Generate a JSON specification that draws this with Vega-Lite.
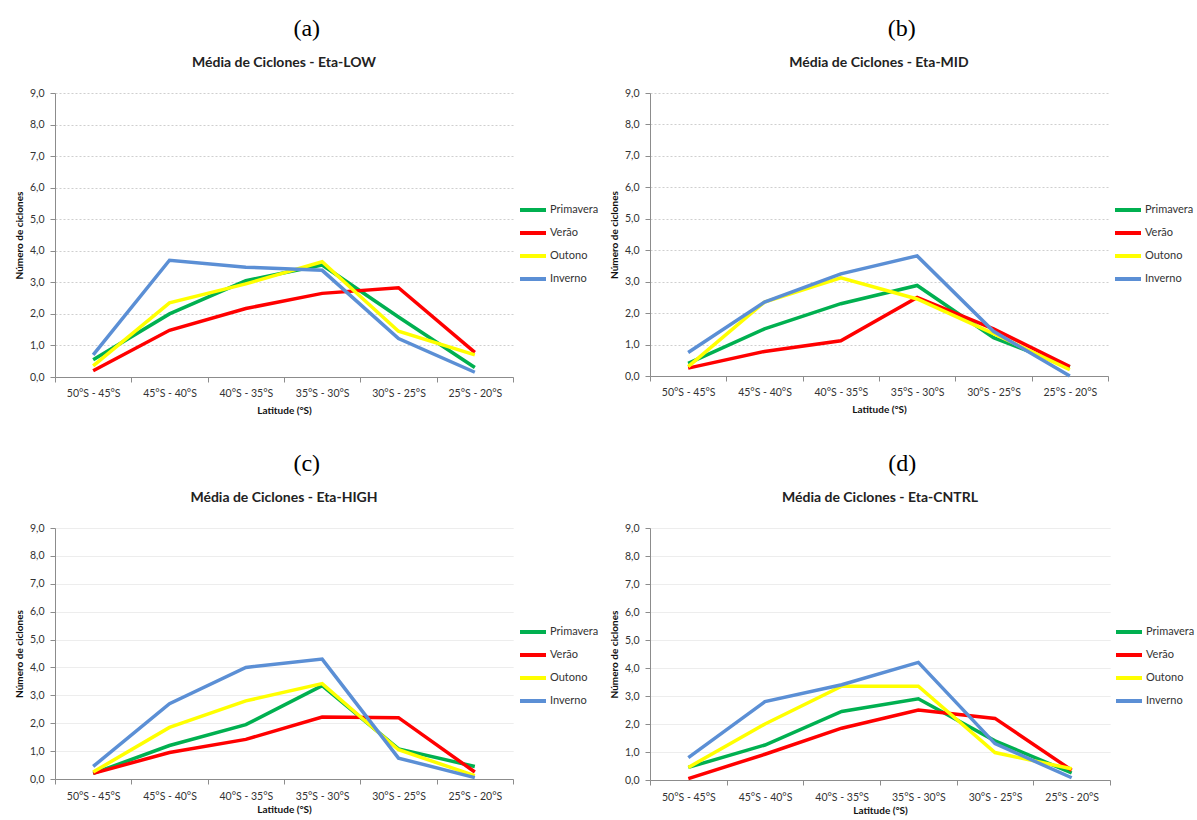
{
  "$schema": "https://vega.github.io/schema/vega-lite/v6.json",
  "background": "white",
  "padding": {"left": 14, "top": 17, "right": 0, "bottom": 0},
  "datasets": {
    "ciclones": [
      {"painel": "LOW", "faixa": "50°S - 45°S", "estacao": "Primavera", "n": 0.55},
      {"painel": "LOW", "faixa": "45°S - 40°S", "estacao": "Primavera", "n": 2.0},
      {"painel": "LOW", "faixa": "40°S - 35°S", "estacao": "Primavera", "n": 3.05},
      {"painel": "LOW", "faixa": "35°S - 30°S", "estacao": "Primavera", "n": 3.55},
      {"painel": "LOW", "faixa": "30°S - 25°S", "estacao": "Primavera", "n": 1.9},
      {"painel": "LOW", "faixa": "25°S - 20°S", "estacao": "Primavera", "n": 0.3},
      {"painel": "LOW", "faixa": "50°S - 45°S", "estacao": "Verão", "n": 0.2},
      {"painel": "LOW", "faixa": "45°S - 40°S", "estacao": "Verão", "n": 1.48},
      {"painel": "LOW", "faixa": "40°S - 35°S", "estacao": "Verão", "n": 2.17},
      {"painel": "LOW", "faixa": "35°S - 30°S", "estacao": "Verão", "n": 2.65},
      {"painel": "LOW", "faixa": "30°S - 25°S", "estacao": "Verão", "n": 2.83},
      {"painel": "LOW", "faixa": "25°S - 20°S", "estacao": "Verão", "n": 0.78},
      {"painel": "LOW", "faixa": "50°S - 45°S", "estacao": "Outono", "n": 0.35},
      {"painel": "LOW", "faixa": "45°S - 40°S", "estacao": "Outono", "n": 2.35},
      {"painel": "LOW", "faixa": "40°S - 35°S", "estacao": "Outono", "n": 2.95},
      {"painel": "LOW", "faixa": "35°S - 30°S", "estacao": "Outono", "n": 3.65},
      {"painel": "LOW", "faixa": "30°S - 25°S", "estacao": "Outono", "n": 1.45},
      {"painel": "LOW", "faixa": "25°S - 20°S", "estacao": "Outono", "n": 0.7},
      {"painel": "LOW", "faixa": "50°S - 45°S", "estacao": "Inverno", "n": 0.7},
      {"painel": "LOW", "faixa": "45°S - 40°S", "estacao": "Inverno", "n": 3.7},
      {"painel": "LOW", "faixa": "40°S - 35°S", "estacao": "Inverno", "n": 3.48},
      {"painel": "LOW", "faixa": "35°S - 30°S", "estacao": "Inverno", "n": 3.38},
      {"painel": "LOW", "faixa": "30°S - 25°S", "estacao": "Inverno", "n": 1.22},
      {"painel": "LOW", "faixa": "25°S - 20°S", "estacao": "Inverno", "n": 0.15},

      {"painel": "MID", "faixa": "50°S - 45°S", "estacao": "Primavera", "n": 0.4},
      {"painel": "MID", "faixa": "45°S - 40°S", "estacao": "Primavera", "n": 1.5},
      {"painel": "MID", "faixa": "40°S - 35°S", "estacao": "Primavera", "n": 2.3},
      {"painel": "MID", "faixa": "35°S - 30°S", "estacao": "Primavera", "n": 2.88},
      {"painel": "MID", "faixa": "30°S - 25°S", "estacao": "Primavera", "n": 1.22},
      {"painel": "MID", "faixa": "25°S - 20°S", "estacao": "Primavera", "n": 0.28},
      {"painel": "MID", "faixa": "50°S - 45°S", "estacao": "Verão", "n": 0.25},
      {"painel": "MID", "faixa": "45°S - 40°S", "estacao": "Verão", "n": 0.78},
      {"painel": "MID", "faixa": "40°S - 35°S", "estacao": "Verão", "n": 1.12},
      {"painel": "MID", "faixa": "35°S - 30°S", "estacao": "Verão", "n": 2.5},
      {"painel": "MID", "faixa": "30°S - 25°S", "estacao": "Verão", "n": 1.5},
      {"painel": "MID", "faixa": "25°S - 20°S", "estacao": "Verão", "n": 0.3},
      {"painel": "MID", "faixa": "50°S - 45°S", "estacao": "Outono", "n": 0.3},
      {"painel": "MID", "faixa": "45°S - 40°S", "estacao": "Outono", "n": 2.35},
      {"painel": "MID", "faixa": "40°S - 35°S", "estacao": "Outono", "n": 3.12},
      {"painel": "MID", "faixa": "35°S - 30°S", "estacao": "Outono", "n": 2.45},
      {"painel": "MID", "faixa": "30°S - 25°S", "estacao": "Outono", "n": 1.35},
      {"painel": "MID", "faixa": "25°S - 20°S", "estacao": "Outono", "n": 0.2},
      {"painel": "MID", "faixa": "50°S - 45°S", "estacao": "Inverno", "n": 0.75},
      {"painel": "MID", "faixa": "45°S - 40°S", "estacao": "Inverno", "n": 2.35},
      {"painel": "MID", "faixa": "40°S - 35°S", "estacao": "Inverno", "n": 3.25},
      {"painel": "MID", "faixa": "35°S - 30°S", "estacao": "Inverno", "n": 3.82},
      {"painel": "MID", "faixa": "30°S - 25°S", "estacao": "Inverno", "n": 1.42},
      {"painel": "MID", "faixa": "25°S - 20°S", "estacao": "Inverno", "n": 0.0},

      {"painel": "HIGH", "faixa": "50°S - 45°S", "estacao": "Primavera", "n": 0.2},
      {"painel": "HIGH", "faixa": "45°S - 40°S", "estacao": "Primavera", "n": 1.2},
      {"painel": "HIGH", "faixa": "40°S - 35°S", "estacao": "Primavera", "n": 1.95},
      {"painel": "HIGH", "faixa": "35°S - 30°S", "estacao": "Primavera", "n": 3.35},
      {"painel": "HIGH", "faixa": "30°S - 25°S", "estacao": "Primavera", "n": 1.08},
      {"painel": "HIGH", "faixa": "25°S - 20°S", "estacao": "Primavera", "n": 0.45},
      {"painel": "HIGH", "faixa": "50°S - 45°S", "estacao": "Verão", "n": 0.2},
      {"painel": "HIGH", "faixa": "45°S - 40°S", "estacao": "Verão", "n": 0.95},
      {"painel": "HIGH", "faixa": "40°S - 35°S", "estacao": "Verão", "n": 1.42},
      {"painel": "HIGH", "faixa": "35°S - 30°S", "estacao": "Verão", "n": 2.22},
      {"painel": "HIGH", "faixa": "30°S - 25°S", "estacao": "Verão", "n": 2.2},
      {"painel": "HIGH", "faixa": "25°S - 20°S", "estacao": "Verão", "n": 0.25},
      {"painel": "HIGH", "faixa": "50°S - 45°S", "estacao": "Outono", "n": 0.25},
      {"painel": "HIGH", "faixa": "45°S - 40°S", "estacao": "Outono", "n": 1.85},
      {"painel": "HIGH", "faixa": "40°S - 35°S", "estacao": "Outono", "n": 2.8},
      {"painel": "HIGH", "faixa": "35°S - 30°S", "estacao": "Outono", "n": 3.42},
      {"painel": "HIGH", "faixa": "30°S - 25°S", "estacao": "Outono", "n": 1.05},
      {"painel": "HIGH", "faixa": "25°S - 20°S", "estacao": "Outono", "n": 0.12},
      {"painel": "HIGH", "faixa": "50°S - 45°S", "estacao": "Inverno", "n": 0.45},
      {"painel": "HIGH", "faixa": "45°S - 40°S", "estacao": "Inverno", "n": 2.7},
      {"painel": "HIGH", "faixa": "40°S - 35°S", "estacao": "Inverno", "n": 4.0},
      {"painel": "HIGH", "faixa": "35°S - 30°S", "estacao": "Inverno", "n": 4.3},
      {"painel": "HIGH", "faixa": "30°S - 25°S", "estacao": "Inverno", "n": 0.75},
      {"painel": "HIGH", "faixa": "25°S - 20°S", "estacao": "Inverno", "n": 0.05},

      {"painel": "CNTRL", "faixa": "50°S - 45°S", "estacao": "Primavera", "n": 0.45},
      {"painel": "CNTRL", "faixa": "45°S - 40°S", "estacao": "Primavera", "n": 1.25},
      {"painel": "CNTRL", "faixa": "40°S - 35°S", "estacao": "Primavera", "n": 2.45},
      {"painel": "CNTRL", "faixa": "35°S - 30°S", "estacao": "Primavera", "n": 2.9},
      {"painel": "CNTRL", "faixa": "30°S - 25°S", "estacao": "Primavera", "n": 1.4},
      {"painel": "CNTRL", "faixa": "25°S - 20°S", "estacao": "Primavera", "n": 0.25},
      {"painel": "CNTRL", "faixa": "50°S - 45°S", "estacao": "Verão", "n": 0.05},
      {"painel": "CNTRL", "faixa": "45°S - 40°S", "estacao": "Verão", "n": 0.92},
      {"painel": "CNTRL", "faixa": "40°S - 35°S", "estacao": "Verão", "n": 1.85},
      {"painel": "CNTRL", "faixa": "35°S - 30°S", "estacao": "Verão", "n": 2.5},
      {"painel": "CNTRL", "faixa": "30°S - 25°S", "estacao": "Verão", "n": 2.2},
      {"painel": "CNTRL", "faixa": "25°S - 20°S", "estacao": "Verão", "n": 0.35},
      {"painel": "CNTRL", "faixa": "50°S - 45°S", "estacao": "Outono", "n": 0.45},
      {"painel": "CNTRL", "faixa": "45°S - 40°S", "estacao": "Outono", "n": 2.0},
      {"painel": "CNTRL", "faixa": "40°S - 35°S", "estacao": "Outono", "n": 3.35},
      {"painel": "CNTRL", "faixa": "35°S - 30°S", "estacao": "Outono", "n": 3.35},
      {"painel": "CNTRL", "faixa": "30°S - 25°S", "estacao": "Outono", "n": 0.98},
      {"painel": "CNTRL", "faixa": "25°S - 20°S", "estacao": "Outono", "n": 0.4},
      {"painel": "CNTRL", "faixa": "50°S - 45°S", "estacao": "Inverno", "n": 0.8},
      {"painel": "CNTRL", "faixa": "45°S - 40°S", "estacao": "Inverno", "n": 2.8},
      {"painel": "CNTRL", "faixa": "40°S - 35°S", "estacao": "Inverno", "n": 3.4},
      {"painel": "CNTRL", "faixa": "35°S - 30°S", "estacao": "Inverno", "n": 4.2},
      {"painel": "CNTRL", "faixa": "30°S - 25°S", "estacao": "Inverno", "n": 1.3},
      {"painel": "CNTRL", "faixa": "25°S - 20°S", "estacao": "Inverno", "n": 0.08}
    ]
  },
  "config": {
    "view": {"stroke": null},
    "concat": {"spacing": 10},
    "axis": {
      "labelFont": "Lato", "labelFontSize": 10.5, "labelColor": "#333333",
      "titleFont": "Lato", "titleFontSize": 10, "titleFontWeight": "bold", "titleColor": "#111111",
      "domainColor": "#8c8c8c", "tickColor": "#8c8c8c", "tickSize": 5
    },
    "legend": {
      "labelFont": "Lato", "labelFontSize": 11, "labelColor": "#333333",
      "symbolType": "stroke", "symbolStrokeWidth": 4, "symbolSize": 676,
      "labelOffset": 2, "padding": 0, "title": null
    }
  },
  "resolve": {"scale": {"color": "independent"}, "legend": {"color": "independent"}},
  "vconcat": [
    {
      "resolve": {"scale": {"color": "independent"}, "legend": {"color": "independent"}},
      "hconcat": [
        {
          "title": {"text": "(a)", "font": "Liberation Serif", "fontSize": 24, "fontWeight": "normal", "color": "#000000", "anchor": "middle", "frame": "bounds", "offset": 15},
          "resolve": {"scale": {"color": "independent"}, "legend": {"color": "independent"}},
          "vconcat": [
            {
              "data": {"name": "ciclones"},
              "width": 458, "height": 284,
              "title": {"text": "Média de Ciclones - Eta-LOW", "font": "Lato", "fontSize": 14, "fontWeight": "bold", "color": "#222222", "anchor": "middle", "frame": "group", "offset": 18},
              "transform": [{"filter": "datum.painel == 'LOW'"}],
              "mark": {"type": "line", "strokeWidth": 3.5},
              "encoding": {
                "x": {"field": "faixa", "type": "ordinal", "sort": ["50°S - 45°S", "45°S - 40°S", "40°S - 35°S", "35°S - 30°S", "30°S - 25°S", "25°S - 20°S"],
                  "scale": {"type": "band", "paddingInner": 0, "paddingOuter": 0},
                  "axis": {"title": "Latitude (°S)", "labelAngle": 0, "tickBand": "extent", "grid": false, "labelPadding": 6, "titlePadding": 7}},
                "y": {"field": "n", "type": "quantitative", "scale": {"domain": [0, 9], "nice": false},
                  "axis": {"title": "Número de ciclones", "values": [0, 1, 2, 3, 4, 5, 6, 7, 8, 9], "labelExpr": "replace(format(datum.value, '.1f'), '.', ',')", "grid": true, "gridDash": [2, 2], "gridColor": "#cfcfcf", "labelPadding": 6, "titlePadding": 5}},
                "color": {"field": "estacao", "type": "nominal",
                  "scale": {"domain": ["Primavera", "Verão", "Outono", "Inverno"], "range": ["#00B050", "#FF0000", "#FFFF00", "#5B8FD5"]},
                  "legend": {"orient": "none", "legendX": 463, "legendY": 102, "rowPadding": -3}}
              }
            }
          ]
        },
        {
          "title": {"text": "(b)", "font": "Liberation Serif", "fontSize": 24, "fontWeight": "normal", "color": "#000000", "anchor": "middle", "frame": "bounds", "offset": 15},
          "resolve": {"scale": {"color": "independent"}, "legend": {"color": "independent"}},
          "vconcat": [
            {
              "data": {"name": "ciclones"},
              "width": 458, "height": 283,
              "title": {"text": "Média de Ciclones - Eta-MID", "font": "Lato", "fontSize": 14, "fontWeight": "bold", "color": "#222222", "anchor": "middle", "frame": "group", "offset": 18},
              "transform": [{"filter": "datum.painel == 'MID'"}],
              "mark": {"type": "line", "strokeWidth": 3.5},
              "encoding": {
                "x": {"field": "faixa", "type": "ordinal", "sort": ["50°S - 45°S", "45°S - 40°S", "40°S - 35°S", "35°S - 30°S", "30°S - 25°S", "25°S - 20°S"],
                  "scale": {"type": "band", "paddingInner": 0, "paddingOuter": 0},
                  "axis": {"title": "Latitude (°S)", "labelAngle": 0, "tickBand": "extent", "grid": false, "labelPadding": 6, "titlePadding": 7}},
                "y": {"field": "n", "type": "quantitative", "scale": {"domain": [0, 9], "nice": false},
                  "axis": {"title": "Número de ciclones", "values": [0, 1, 2, 3, 4, 5, 6, 7, 8, 9], "labelExpr": "replace(format(datum.value, '.1f'), '.', ',')", "grid": true, "gridDash": [2, 2], "gridColor": "#cfcfcf", "labelPadding": 6, "titlePadding": 5}},
                "color": {"field": "estacao", "type": "nominal",
                  "scale": {"domain": ["Primavera", "Verão", "Outono", "Inverno"], "range": ["#00B050", "#FF0000", "#FFFF00", "#5B8FD5"]},
                  "legend": {"orient": "none", "legendX": 463, "legendY": 102, "rowPadding": -3}}
              }
            }
          ]
        }
      ]
    },
    {
      "resolve": {"scale": {"color": "independent"}, "legend": {"color": "independent"}},
      "hconcat": [
        {
          "title": {"text": "(c)", "font": "Liberation Serif", "fontSize": 24, "fontWeight": "normal", "color": "#000000", "anchor": "middle", "frame": "bounds", "offset": 15},
          "resolve": {"scale": {"color": "independent"}, "legend": {"color": "independent"}},
          "vconcat": [
            {
              "data": {"name": "ciclones"},
              "width": 458, "height": 251,
              "title": {"text": "Média de Ciclones - Eta-HIGH", "font": "Lato", "fontSize": 14, "fontWeight": "bold", "color": "#222222", "anchor": "middle", "frame": "group", "offset": 18},
              "transform": [{"filter": "datum.painel == 'HIGH'"}],
              "mark": {"type": "line", "strokeWidth": 3.5},
              "encoding": {
                "x": {"field": "faixa", "type": "ordinal", "sort": ["50°S - 45°S", "45°S - 40°S", "40°S - 35°S", "35°S - 30°S", "30°S - 25°S", "25°S - 20°S"],
                  "scale": {"type": "band", "paddingInner": 0, "paddingOuter": 0},
                  "axis": {"title": "Latitude (°S)", "labelAngle": 0, "tickBand": "extent", "grid": false, "labelPadding": 7, "titlePadding": 3}},
                "y": {"field": "n", "type": "quantitative", "scale": {"domain": [0, 9], "nice": false},
                  "axis": {"title": "Número de ciclones", "values": [0, 1, 2, 3, 4, 5, 6, 7, 8, 9], "labelExpr": "replace(format(datum.value, '.1f'), '.', ',')", "grid": true, "gridDash": [1, 0], "gridColor": "#e6e6e6", "labelPadding": 6, "titlePadding": 5}},
                "color": {"field": "estacao", "type": "nominal",
                  "scale": {"domain": ["Primavera", "Verão", "Outono", "Inverno"], "range": ["#00B050", "#FF0000", "#FFFF00", "#5B8FD5"]},
                  "legend": {"orient": "none", "legendX": 463, "legendY": 89, "rowPadding": -4}}
              }
            }
          ]
        },
        {
          "title": {"text": "(d)", "font": "Liberation Serif", "fontSize": 24, "fontWeight": "normal", "color": "#000000", "anchor": "middle", "frame": "bounds", "offset": 15},
          "resolve": {"scale": {"color": "independent"}, "legend": {"color": "independent"}},
          "vconcat": [
            {
              "data": {"name": "ciclones"},
              "width": 460, "height": 252,
              "title": {"text": "Média de Ciclones - Eta-CNTRL", "font": "Lato", "fontSize": 14, "fontWeight": "bold", "color": "#222222", "anchor": "middle", "frame": "group", "offset": 18},
              "transform": [{"filter": "datum.painel == 'CNTRL'"}],
              "mark": {"type": "line", "strokeWidth": 3.5},
              "encoding": {
                "x": {"field": "faixa", "type": "ordinal", "sort": ["50°S - 45°S", "45°S - 40°S", "40°S - 35°S", "35°S - 30°S", "30°S - 25°S", "25°S - 20°S"],
                  "scale": {"type": "band", "paddingInner": 0, "paddingOuter": 0},
                  "axis": {"title": "Latitude (°S)", "labelAngle": 0, "tickBand": "extent", "grid": false, "labelPadding": 7, "titlePadding": 3}},
                "y": {"field": "n", "type": "quantitative", "scale": {"domain": [0, 9], "nice": false},
                  "axis": {"title": "Número de ciclones", "values": [0, 1, 2, 3, 4, 5, 6, 7, 8, 9], "labelExpr": "replace(format(datum.value, '.1f'), '.', ',')", "grid": true, "gridDash": [1, 0], "gridColor": "#e6e6e6", "labelPadding": 6, "titlePadding": 5}},
                "color": {"field": "estacao", "type": "nominal",
                  "scale": {"domain": ["Primavera", "Verão", "Outono", "Inverno"], "range": ["#00B050", "#FF0000", "#FFFF00", "#5B8FD5"]},
                  "legend": {"orient": "none", "legendX": 464, "legendY": 89, "rowPadding": -4}}
              }
            }
          ]
        }
      ]
    }
  ],
  "spacing": 36
}
